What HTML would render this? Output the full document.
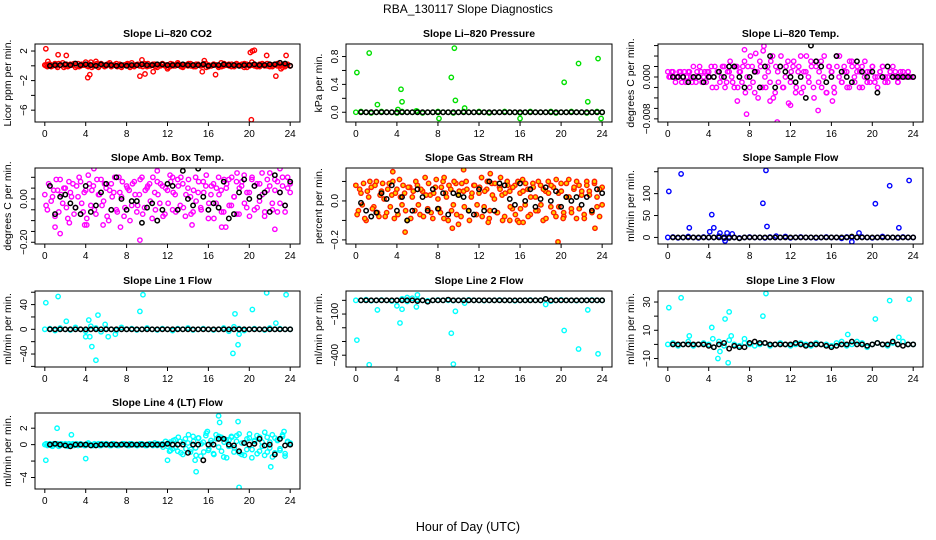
<!DOCTYPE html>
<html><head><meta charset="utf-8"><style>
html,body{margin:0;padding:0;background:#fff}
svg{display:block;font-family:"Liberation Sans",Arial,sans-serif}
</style></head><body>
<svg id="chart" width="936" height="540" viewBox="0 0 936 540">
<text x="468" y="13" text-anchor="middle" font-size="12">RBA_130117  Slope Diagnostics</text>
<text x="468" y="531" text-anchor="middle" font-size="12.5">Hour of Day (UTC)</text>
</svg>
<script>
// ---- data (hours derived from array index across 0..24) ----
const co2C=[0.1,-0.1,0.2,0,0.3,-0.2,0.1,0.4,0,-0.1,0.2,0.1,-0.2,0.3,0,0.1,0.2,-0.1,0.5,0,0.1,-0.2,0.3,0.1,0,0.2,-0.1,0.1,0.3,0,-0.2,0.1,0.2,0,0.4,-0.1,0.1,0,0.2,0.3,-0.1,0,0.1,0.2,-0.2,0.1,0.3,0,0.1,-0.1,0.2,0,0.4,0.1,-0.2,0.1,0,0.3,0.1,-0.1,0.2,0,0.1,0.3,-0.1,0,0.2,0.1,-0.2,0.4,0,0.1,0.2,-0.1,0,0.3,0.1,0,-0.2,0.2,0.1,0.5,0,-0.1,0.2,0.1,0,0.3,-0.1,0.1,0.2,0,0.4,-0.2,0.1,0.2,0];
const co2C2=[0,0.2,-0.1,0.1,0,0.3,0.1,-0.2,0.2,0,0.1,0.3,0,-0.1,0.2,0.1,0,0.2,-0.2,0.1,0.3,0,0.1,-0.1,0.2,0.4,0,0.1,-0.1,0.2,0,0.1,0.3,-0.2,0,0.1,0.2,0,-0.1,0.1,0.3,0,0.2,-0.1,0.1,0,0.2,0.1,-0.2,0.3,0,0.1,0.2,-0.1,0,0.1,0.3,0,-0.1,0.2,0.1,0,0.3,-0.2,0.1,0,0.2,0.1,0,-0.1,0.3,0.1,0,0.2,-0.1,0.1,0,0.2,0.3,-0.2,0,0.1,0.2,0,-0.1,0.3,0.1,0,0.2,-0.1,0.1,0.3,0,0.2,-0.1,0.1,0];
const co2OX=[0.1,0.3,1.3,2.1,4.0,4.2,4.4,5.0,9.3,9.5,9.8,10.6,12.0,15.6,15.4,16.7,20.1,20.3,20.5,20.2,21.7,22.6,23.6,23.1];
const co2OY=[2.3,0.6,1.5,1.4,0.5,-1.6,-1.2,0.6,-1.4,0.8,-1.1,-0.8,-0.4,0.7,-0.8,-1.2,1.8,2.0,2.1,-7.3,1.4,-1.4,1.4,-0.4];
const co2B=[0,0.1,0.1,0.2,0.1,0.3,0.1,0.2,0.1,0,0.2,0.1,0.1,0,0.1,0,0.1,0.1,0.2,0.1,0.1,0.2,0.2,0.1,0.1,0.1,0.2,0.1,0.1,0.1,0.2,0,0.1,0.1,0.2,0.1,0.1,0,0.1,0.1,0.2,0.1,0.1,0.2,0.2,0.4,0.3,0];

const prC=[0,0.01,0,-0.01,0,0.01,0,0,-0.01,0.01,0,0,0.01,-0.01,0,0,0.01,0,0,-0.01,0,0.01,0,0,0.01,0,-0.01,0,0,0.01,0,0,-0.01,0,0.01,0,0,0,0.01,-0.01,0,0,0.01,0,0,-0.01,0,0.01,0];
const prOX=[0.1,1.3,2.1,4.1,4.4,4.5,8.1,9.3,9.6,9.7,10.6,16.0,20.3,21.7,22.6,23.6,23.9,5.9];
const prOY=[0.57,0.85,0.11,0.04,0.33,0.15,-0.09,0.5,0.92,0.17,0.06,-0.09,0.43,0.7,0.15,0.77,-0.09,0.02];
const prB=[0,0,0,0,0,0,0,0,0,0,0,0,0,0,0,0,0,0,0,0,0,0,0,0,0,0,0,0,0,0,0,0,0,0,0,0,0,0,0,0,0,0,0,0,0,0,0,0];

const ltC=[0.001,0,0.001,-0.001,0,0.001,0,-0.001,0.001,0,0.002,-0.001,0,0.001,0,-0.001,0.001,0.002,0,-0.002,0.001,0,0.002,-0.001,0.001,0,-0.002,0.002,0.001,-0.001,0.003,0,-0.002,0.002,-0.003,0.001,0.003,-0.002,0,0.002,-0.001,0.004,-0.003,0.001,0.002,-0.002,0,0.003,-0.001,0.002,-0.003,0.001,0.004,-0.002,0.001,0,0.003,-0.002,0.002,-0.001,0.003,0,-0.003,0.002,0.001,-0.002,0.004,0,-0.001,0.002,0.001,-0.002,0.003,0,0.001,-0.002,0.002,0,-0.001,0.001,0.002,-0.001,0,0.001,0.002,-0.001,0,0.001,0,0.001,-0.001,0,0.001,0,0.001,0,0];
const ltC2=[0,0.001,0,0,0.001,-0.001,0.001,0,0.001,-0.001,0,0.001,0.002,-0.001,0.001,0.001,0,-0.002,0.002,0.001,-0.001,0.002,-0.002,0.001,0.003,-0.001,0.002,-0.002,0.001,0.002,-0.003,0.002,0.004,-0.001,0.001,-0.004,0.002,0.005,-0.002,0.001,0.003,-0.004,0.002,-0.001,0.004,-0.002,0.002,-0.005,0.001,0.003,-0.002,0.002,-0.003,0.001,0.004,-0.001,0.002,-0.004,0.003,0.001,-0.002,0.004,-0.003,0.002,0.001,-0.003,0.002,0.004,-0.001,0.001,-0.002,0.003,0.002,-0.001,0.002,0.001,-0.002,0.003,0.001,-0.001,0.002,0,-0.002,0.001,0.002,0,-0.001,0.001,0.002,0,-0.001,0.001,0,0,0.001,0,0];
const ltOX=[7.5,7.7,8.6,9.4,10.7,14.7,16.1,12.0,6.8,10.0];
const ltOY=[0.0052,-0.0071,0.0045,0.0059,-0.0086,-0.0064,-0.0046,-0.0054,-0.0046,-0.0046];
const ltB=[0,0,0,-0.001,0,0,-0.001,0,0,0.001,0,0.002,0.002,0,-0.002,0,0.001,-0.002,0.002,0.004,-0.002,0.002,0.001,0,-0.001,0,-0.004,0.006,0.003,0.002,-0.001,0,0.004,0.001,0,-0.001,0.003,0.001,0,0.001,-0.003,0,0.002,0,0,0,0,0];

const abC=[0.02,-0.05,0.06,0.01,-0.08,0.04,0.09,-0.02,0.05,-0.09,0.03,0.07,-0.04,0.01,0.08,-0.06,0.04,0.11,-0.03,0.06,-0.07,0.02,0.09,-0.01,0.05,-0.1,0.07,0.03,-0.05,0.1,0.01,-0.08,0.06,0.04,-0.03,0.08,-0.06,0.02,0.1,-0.04,0.05,0.07,-0.09,0.03,0.08,-0.02,0.06,-0.07,0.04,0.11,-0.05,0.02,0.09,-0.03,0.07,-0.08,0.05,0.01,-0.06,0.1,0.03,-0.04,0.08,0.06,-0.09,0.02,0.07,-0.02,0.1,0.04,-0.06,0.05,0.09,-0.03,0.01,0.08,-0.07,0.06,0.11,-0.04,0.03,0.09,-0.05,0.07,-0.01,0.12,-0.08,0.04,0.06,-0.02,0.09,-0.06,0.03,0.1,-0.03,0.05,0.07];
const abC2=[-0.03,0.07,-0.01,0.04,0.09,-0.06,0.02,0.05,-0.04,0.08,0.01,-0.07,0.06,0.1,-0.02,0.03,-0.09,0.07,0.04,-0.05,0.09,0.02,-0.03,0.07,-0.08,0.04,0.01,0.1,-0.06,0.03,0.08,-0.04,0.05,-0.1,0.07,0.02,-0.03,0.09,-0.07,0.04,0.06,-0.01,0.1,-0.05,0.02,0.07,-0.08,0.05,-0.02,0.08,0.03,-0.06,0.06,0.1,-0.04,0.02,0.09,-0.07,0.04,-0.01,0.08,-0.05,0.03,0.11,-0.02,0.06,-0.09,0.05,0.02,-0.06,0.09,0.07,-0.03,0.1,0.01,-0.07,0.05,0.08,-0.02,0.03,-0.08,0.1,0.06,-0.04,0.07,0.02,-0.06,0.09,0.12,-0.05,0.04,0.08,-0.02,0.06,-0.06,0.1,0.03];
const abOX=[1.5,1.0,2.4,3.9,4.1,5.7,7.4,9.3,12.5,14.4,17.3,17.7,18.8,22.5,23.0,4.8,11.0];
const abOY=[-0.16,-0.13,-0.11,-0.12,-0.12,-0.12,-0.13,-0.19,0.1,-0.12,-0.13,-0.13,0.12,-0.14,0.14,0.14,0.13];
const abB=[0.06,-0.07,0.01,0.02,-0.02,-0.04,-0.07,0.06,-0.06,-0.03,0.03,0.07,-0.05,0.1,0,-0.05,-0.01,-0.01,-0.11,-0.04,-0.02,-0.1,-0.05,0.07,0.06,-0.05,0.13,-0,-0.03,0.14,0.01,-0.05,-0.02,-0.04,0.08,-0.09,-0.07,0.03,0.09,0,0.06,0.01,0.03,-0.06,0.11,0.03,-0.03,0.08];

const rhC=[0.08,-0.05,0.04,0.09,-0.1,0.02,0.07,-0.03,0.1,-0.08,0.05,0.01,-0.06,0.09,0.03,-0.09,0.06,0.11,-0.02,0.04,-0.1,0.07,0.02,-0.05,0.08,-0.07,0.05,0.12,-0.04,0.03,-0.09,0.07,0.01,-0.06,0.1,0.04,-0.1,0.06,-0.02,0.09,0.03,-0.08,0.05,0.1,-0.05,0.02,0.08,-0.07,0.04,0.12,-0.03,0.06,-0.09,0.09,0.01,-0.06,0.07,0.03,-0.08,0.1,0.05,-0.04,0.08,-0.1,0.04,0.11,-0.02,0.06,-0.07,0.09,0.02,-0.05,0.08,-0.1,0.05,0.1,-0.03,0.07,-0.08,0.04,0.09,-0.06,0.02,0.11,-0.04,0.06,-0.09,0.08,0.03,-0.07,0.1,0.05,-0.05,0.09,0.02,-0.08,0.07];
const rhC2=[-0.07,0.06,-0.02,-0.09,0.05,0.1,-0.04,0.08,-0.06,0.03,0.09,-0.08,0.06,-0.03,0.1,0.04,-0.07,0.02,0.08,-0.05,0.07,-0.09,0.05,0.1,-0.02,0.06,-0.08,0.03,0.09,-0.06,0.04,0.11,-0.04,0.07,-0.09,0.02,0.08,-0.05,0.1,-0.07,0.05,0.09,-0.03,0.06,-0.1,0.04,0.08,-0.02,0.07,-0.08,0.05,0.1,-0.05,0.03,0.09,-0.06,0.06,-0.1,0.04,0.08,-0.03,0.07,-0.07,0.1,-0.04,0.05,0.09,-0.08,0.02,0.07,-0.05,0.1,-0.02,0.06,-0.09,0.04,0.08,-0.06,0.11,-0.03,0.05,-0.08,0.09,0.02,-0.06,0.07,0.1,-0.04,0.05,-0.09,0.08,0.03,-0.06,0.1,-0.03,0.06,-0.02];
const rhOX=[3.6,8.6,9.4,10.5,13.1,14.1,15,15.9,16.3,12.9,23.3,19.7,20.2,4.8,10.0];
const rhOY=[0.15,0.12,-0.14,0.16,0.14,0.12,-0.1,-0.11,-0.11,-0.11,-0.14,-0.21,-0.09,-0.16,-0.12];
const rhB=[-0.01,-0.05,-0.08,-0.06,0.04,0.01,0.08,-0.05,0.02,-0.1,-0.05,0.06,0.02,-0.05,0.06,-0.04,0.04,-0.07,0.04,0.03,0.02,-0.05,-0.07,0.06,-0.05,0.1,-0.05,0.09,0.08,0.01,-0.02,0.09,0,0.06,-0.03,0.01,0.07,0,0.05,-0.03,0.02,0,0.02,-0.02,0.02,-0.05,0.06,0.04];

const sfC=[0,1,-1,0,2,0,-1,1,0,0,3,-2,1,0,-1,0,1,0,0,-1,1,0,0,2,-1,0,1,0,0,-1,0,1,0,0,-2,1,0,0,1,0,-1,0,2,0,0,-1,1,0,0];
const sfOX=[0.1,1.3,2.1,4.1,4.3,4.5,5.1,5.6,5.8,6.3,9.3,9.6,9.7,18.0,18.7,20.3,21.7,22.6,23.6,10.6];
const sfOY=[105,145,22,13,52,22,10,-8,10,8,78,153,25,-10,10,77,118,22,130,3];
const sfB=[0,0,0,0,0,0,0,0,0,0,0,-1,0,-2,0,0,0,0,0,0,0,0,0,0,0,0,0,0,0,0,0,0,0,0,0,2,0,0,0,0,0,0,0,0,0,0,0,0];

const l1C=[0,1,-2,2,0,-1,3,0,-3,5,2,-4,1,0,-2,3,0,1,-1,0,2,0,-1,1,0,-2,1,0,2,-1,0,1,0,-1,0,2,-3,4,1,-2,0,1,0,-1,2,0,1,0,0];
const l1OX=[0.1,1.3,2.1,4.0,4.3,4.4,4.6,5.0,5.2,6.2,9.3,9.6,18.4,18.6,18.9,19.0,20.3,21.7,22.6,23.6,5.9,6.9];
const l1OY=[43,53,13,-12,15,-12,-28,-50,23,-12,29,56,-39,25,-25,-8,32,59,10,56,8,-8];
const l1B=[0,0,0,0,0,0,0,0,0,0,0,0,0,0,0,0,0,0,0,0,0,0,0,0,0,0,0,0,0,0,0,0,0,0,0,0,0,0,0,0,0,0,0,0,0,0,0,0];

const l2C=[0,0,5,-3,0,2,0,-5,0,10,-8,15,5,0,-3,0,2,0,0,-2,0,0,3,0,0,-2,0,0,2,0,0,-3,0,0,2,0,0,10,-5,0,3,0,0,-2,0,0,2,0,0];
const l2OX=[0.1,1.3,2.1,4.3,4.5,5.9,6.0,9.3,9.5,9.7,10.6,20.3,21.7,22.6,23.6,18.5,5.0,4.0];
const l2OY=[-290,-470,-70,-165,-65,-48,40,-240,-465,-80,-20,-220,-355,-70,-390,-30,20,-40];
const l2B=[0,0,0,0,0,0,0,0,0,0,0,-5,0,-10,0,0,0,5,0,0,0,0,0,0,0,0,0,0,0,0,0,0,0,0,0,0,10,0,0,0,0,0,0,0,0,0,0,0];

const l3C=[0,1,-1,0,2,-1,0,1,0,-2,2,-1,3,0,-1,1,0,-1,0,1,-1,0,1,0,-1,0,1,0,-1,1,0,0,-1,1,2,-1,0,2,1,-2,0,1,0,-1,1,0,2,0,0];
const l3OX=[0.1,1.3,2.1,4.3,4.4,4.9,5.1,5.6,5.9,6.0,6.2,9.3,9.6,17.6,20.3,21.7,22.6,23.6,7.5];
const l3OY=[26,33,6,12,4,-10,-5,18,-13,23,6,20,36,7,18,31,5,32,4];
const l3B=[0,0,0,0,0,0,0,-1,-2,0,1,-3,-1,-2,-2,1,2,1,1,0,0,0,0,0,1,0,-1,0,0,0,-1,-2,-1,0,0,2,0,0,-1,0,1,0,0,2,0,-1,0,0];

const l4C=[0,-0.1,0.1,-0.2,0,0.1,-0.1,0,0.1,-0.2,0,0.1,0,-0.1,0.1,0,-0.1,0.2,0,-0.1,0,0.1,-0.1,0,0.1,0,-0.1,0.1,0,-0.1,0,0.1,0,-0.1,0.1,0,-0.1,0,0.1,0,-0.1,0.1,0,0.2,-0.1,0,0.1,0,-0.2,0.3,-0.5,0.6,-0.8,0.4,-1.2,0.7,0.2,-0.9,1.0,-0.4,0.8,-1.4,0.3,1.1,-0.7,0.5,-1.1,1.2,-0.3,0.9,-1.5,0.6,-0.2,1.0,-0.9,0.4,1.3,-1.2,0.2,-0.6,0.8,-1.6,0.5,1.1,-0.8,0.3,-1.3,0.9,-0.4,1.2,-1.0,0.6,-0.5,1.0,-1.4,0.4,0.2];
const l4C2=[0.1,0,-0.1,0.1,0,-0.2,0.1,0,-0.1,0.1,0,-0.1,0.1,0,0,-0.1,0.1,0,-0.1,0.1,0,-0.1,0.1,0,0,-0.1,0.1,0,-0.1,0,0.1,0,-0.1,0.1,0,0,-0.1,0.1,0,-0.1,0,0.1,-0.1,0,0.1,0,-0.3,0.4,0.2,-0.7,0.5,-0.3,0.9,-1.0,0.3,-0.5,1.2,-0.6,0.4,-1.3,0.8,0.1,-0.9,1.4,-0.5,0.2,-1.2,0.7,1.0,-0.8,0.3,-1.6,0.6,0.9,-0.4,1.1,-1.0,0.2,-1.3,0.7,1.3,-0.6,0.4,-1.1,0.9,-0.2,1.5,-0.9,0.3,-1.5,0.8,0.5,-0.7,1.2,-1.1,0.3,0.1];
const l4OX=[0.1,1.2,2.6,4.0,12.0,14.8,17.0,17.1,18.9,19.0,22.1,15.9,23.4,12.2,14.7];
const l4OY=[-1.9,2.0,1.2,-1.7,-1.9,-3.3,3.5,2.7,2.8,-5.2,-2.7,1.6,1.6,-0.8,-1.9];
const l4B=[0,0.1,0,-0.1,-0.2,0,0,0,-0.1,-0.1,0,0,0,0,0,0,0,0,0,0,0,0,0,0.1,0,0,0,-1.0,0,0,-1.9,0,0,0.7,0.7,0,-0.1,-0.8,0.2,0,0.1,0.7,-0.1,0,-1.2,0.7,-0.1,0];

const xTicks=[0,4,8,12,16,20,24];

// ---- panels ----
const panels=[
 {name:'co2',title:'Slope Li\u2013820 CO2',yl:'Licor ppm per min.',col:0,row:0,ylim:[-7.6,2.95],ticks:[2,0,-2,-4,-6],labels:['2','','\u22122','','\u22126'],color:'#ff0000',fill:'none',c:[co2C,co2C2],ox:co2OX,oy:co2OY,b:co2B},
 {name:'pressure',title:'Slope Li\u2013820 Pressure',yl:'kPa per min.',col:1,row:0,ylim:[-0.14,0.98],ticks:[0,0.2,0.4,0.6,0.8],labels:['0.0','','0.4','','0.8'],color:'#00e000',fill:'none',c:[prC],ox:prOX,oy:prOY,b:prB},
 {name:'li820-temp',title:'Slope Li\u2013820 Temp.',yl:'degrees C per min.',col:2,row:0,ylim:[-0.0086,0.0063],ticks:[0.006,0.004,0.002,0,-0.002,-0.004,-0.006,-0.008],labels:['','','','0.000','','','','\u22120.008'],color:'#ff00ff',fill:'none',c:[ltC,ltC2],ox:ltOX,oy:ltOY,b:ltB},
 {name:'amb-box-temp',title:'Slope Amb. Box Temp.',yl:'degrees C per min.',col:0,row:1,ylim:[-0.208,0.143],ticks:[0.1,0.05,0,-0.05,-0.1,-0.15,-0.2],labels:['','','0.00','','','','\u22120.20'],color:'#ff00ff',fill:'none',c:[abC,abC2],ox:abOX,oy:abOY,b:abB},
 {name:'gas-stream-rh',title:'Slope Gas Stream RH',yl:'percent per min.',col:1,row:1,ylim:[-0.221,0.169],ticks:[0.1,0,-0.1,-0.2],labels:['','0.0','','\u22120.2'],color:'#ff2000',fill:'#ffd000',c:[rhC,rhC2],ox:rhOX,oy:rhOY,b:rhB},
 {name:'sample-flow',title:'Slope Sample Flow',yl:'ml/min per min.',col:2,row:1,ylim:[-15,158.5],ticks:[150,100,50,0],labels:['','100','50','0'],color:'#0000ff',fill:'none',c:[sfC],ox:sfOX,oy:sfOY,b:sfB},
 {name:'line1-flow',title:'Slope Line 1 Flow',yl:'ml/min per min.',col:0,row:2,ylim:[-61,62],ticks:[60,40,20,0,-20,-40,-60],labels:['','40','','0','','\u221240',''],color:'#00ffff',fill:'none',c:[l1C],ox:l1OX,oy:l1OY,b:l1B},
 {name:'line2-flow',title:'Slope Line 2 Flow',yl:'ml/min per min.',col:1,row:2,ylim:[-486,68],ticks:[0,-100,-200,-300,-400],labels:['','\u2212100','','','\u2212400'],color:'#00ffff',fill:'none',c:[l2C],ox:l2OX,oy:l2OY,b:l2B},
 {name:'line3-flow',title:'Slope Line 3 Flow',yl:'ml/min per min.',col:2,row:2,ylim:[-16,37.8],ticks:[30,20,10,0,-10],labels:['30','','10','','\u221210'],color:'#00ffff',fill:'none',c:[l3C],ox:l3OX,oy:l3OY,b:l3B},
 {name:'line4-flow',title:'Slope Line 4 (LT) Flow',yl:'ml/min per min.',col:0,row:3,ylim:[-5.4,3.85],ticks:[2,0,-2,-4],labels:['2','0','','\u22124'],color:'#00ffff',fill:'none',c:[l4C,l4C2],ox:l4OX,oy:l4OY,b:l4B}
];
const Ls=[35,346,658],Rs=[300,612,923],Ts=[44,168,291,413],Bs=[122,244,367,489];
const NS='http://www.w3.org/2000/svg';
const svg=document.getElementById('chart');
function mk(tag,attrs,parent){const e=document.createElementNS(NS,tag);for(const k in attrs)e.setAttribute(k,attrs[k]);parent.appendChild(e);return e;}

panels.forEach(p=>{
 const L=Ls[p.col],R=Rs[p.col],T=Ts[p.row],B=Bs[p.row];
 const xs=h=>L+(h+0.96)/25.92*(R-L);
 const ys=v=>B-(v-p.ylim[0])/(p.ylim[1]-p.ylim[0])*(B-T);
 const g=mk('g',{},svg);
 
 
 const t=mk('text',{x:(L+R)/2,y:T-7,'text-anchor':'middle','font-size':'10.5','font-weight':'bold'},g);
 t.textContent=p.title;
 
 
 const yt=mk('text',{transform:`translate(${L-24},${(T+B)/2}) rotate(-90)`,'text-anchor':'middle','font-size':'10.5'},g);
 yt.textContent=p.yl;
 
 
 const cid='clip-'+p.name;
 const cp=mk('clipPath',{id:cid},g);mk('rect',{x:L,y:T,width:R-L,height:B-T},cp);
 const pts=mk('g',{'clip-path':`url(#${cid})`,fill:p.fill,stroke:p.color,'stroke-width':'1.4'},g);
 
 
 p.c.forEach((arr,k)=>{arr.forEach((v,i)=>{const h=(i+k*0.5)*24/(arr.length-1+k*0.5+0.0001);
   const c=mk('circle',{cx:xs(Math.min(h,24)),cy:ys(v),r:2.2},pts);
   
   });});
 p.ox.forEach((h,i)=>{const c=mk('circle',{cx:xs(h),cy:ys(p.oy[i]),r:2.2},pts);
   
   });
 const bk=mk('g',{'clip-path':`url(#${cid})`,fill:'none',stroke:'#000','stroke-width':'1.5'},g);
 
 
 p.b.forEach((v,i)=>{const c=mk('circle',{cx:xs((i+1)*0.5),cy:ys(v),r:2.2},bk);
   
   });
 const box=mk('rect',{x:L,y:T,width:R-L,height:B-T,fill:'none',stroke:'#000','stroke-width':'1'},g);
 
 
 xTicks.forEach(h=>{const x=xs(h);
   mk('line',{x1:x,x2:x,y1:B,y2:B+4,stroke:'#000'},g);
   const tl=mk('text',{x:x,y:B+15,'text-anchor':'middle','font-size':'10'},g);
   tl.textContent=h;
   
   });
 p.ticks.forEach((v,i)=>{const y=ys(v);
   mk('line',{x1:L-4,x2:L,y1:y,y2:y,stroke:'#000'},g);
   if(p.labels[i]){const tl=mk('text',{transform:`translate(${L-8},${y}) rotate(-90)`,'text-anchor':'middle','font-size':'10'},g);
   tl.textContent=p.labels[i];
   
   }});
});
</script>
</body></html>
